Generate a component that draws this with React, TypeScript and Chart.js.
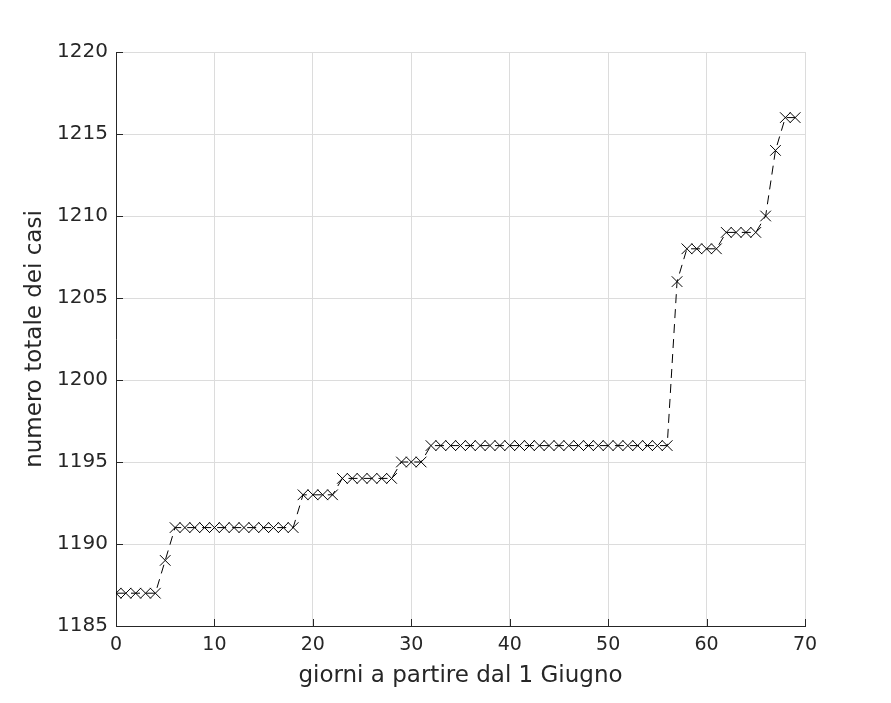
import React, { useEffect, useRef } from "react";
import { Chart, registerables } from "chart.js";

Chart.register(...registerables);

const days: number[] = [
  0, 1, 2, 3, 4, 5, 6, 7, 8, 9, 10, 11, 12, 13, 14, 15, 16, 17, 18, 19,
  20, 21, 22, 23, 24, 25, 26, 27, 28, 29, 30, 31, 32, 33, 34, 35, 36, 37, 38, 39,
  40, 41, 42, 43, 44, 45, 46, 47, 48, 49, 50, 51, 52, 53, 54, 55, 56, 57, 58, 59,
  60, 61, 62, 63, 64, 65, 66, 67, 68, 69,
];
const cases: number[] = [
  1187, 1187, 1187, 1187, 1187, 1189, 1191, 1191, 1191, 1191,
  1191, 1191, 1191, 1191, 1191, 1191, 1191, 1191, 1191, 1193,
  1193, 1193, 1193, 1194, 1194, 1194, 1194, 1194, 1194, 1195,
  1195, 1195, 1196, 1196, 1196, 1196, 1196, 1196, 1196, 1196,
  1196, 1196, 1196, 1196, 1196, 1196, 1196, 1196, 1196, 1196,
  1196, 1196, 1196, 1196, 1196, 1196, 1196, 1206, 1208, 1208,
  1208, 1208, 1209, 1209, 1209, 1209, 1210, 1214, 1216, 1216,
];
const xTicks: number[] = [0, 10, 20, 30, 40, 50, 60, 70];
const yTicks: number[] = [1185, 1190, 1195, 1200, 1205, 1210, 1215, 1220];
const xLabel = "giorni a partire dal 1 Giugno";
const yLabel = "numero totale dei casi";

const AXIS = "#262626";
const FONT = "'DejaVu Sans'";

const innerTicks = {
  id: "innerTicks",
  afterDraw(chart: any) {
    const { ctx, chartArea } = chart;
    const xs = chart.scales.x;
    const ys = chart.scales.y;
    ctx.save();
    ctx.strokeStyle = AXIS;
    ctx.lineWidth = 1;
    ctx.beginPath();
    xTicks.forEach((v) => {
      const px = Math.round(xs.getPixelForValue(v)) + 0.5;
      ctx.moveTo(px, chartArea.bottom);
      ctx.lineTo(px, chartArea.bottom - 7);
    });
    yTicks.forEach((v) => {
      const py = Math.round(ys.getPixelForValue(v)) + 0.5;
      ctx.moveTo(chartArea.left, py);
      ctx.lineTo(chartArea.left + 7, py);
    });
    ctx.stroke();
    ctx.restore();
  },
};

export default function App() {
  const ref = useRef<HTMLCanvasElement | null>(null);
  useEffect(() => {
    if (!ref.current) return;
    const chart = new Chart(ref.current, {
      type: "line",
      data: {
        datasets: [
          {
            data: days.map((d, i) => ({ x: d, y: cases[i] })),
            borderColor: "#000000",
            backgroundColor: "#000000",
            borderWidth: 1,
            borderDash: [9, 6],
            pointStyle: "crossRot",
            pointRadius: 7.5,
            pointBorderWidth: 1,
            pointBorderColor: "#000000",
            fill: false,
            tension: 0,
          },
        ],
      },
      options: {
        responsive: false,
        animation: false,
        plugins: { legend: { display: false }, tooltip: { enabled: false } },
        layout: { padding: { top: 52, right: 86, left: 0, bottom: 0 } },
        scales: {
          x: {
            type: "linear",
            min: 0,
            max: 70,
            afterFit: (s: any) => {
              s.height = 77;
            },
            afterBuildTicks: (s: any) => {
              s.ticks = xTicks.map((v) => ({ value: v }));
            },
            ticks: {
              color: AXIS,
              font: { family: FONT, size: 19 },
              padding: 8,
              maxRotation: 0,
              callback: (v: any) => String(v),
            },
            grid: { color: "#dcdcdc", drawTicks: false, lineWidth: 1 },
            border: { display: true, color: AXIS, width: 1 },
            title: {
              display: true,
              text: xLabel,
              color: AXIS,
              font: { family: FONT, size: 23 },
              padding: { top: 0, bottom: 13 },
            },
          },
          y: {
            type: "linear",
            min: 1185,
            max: 1220,
            afterFit: (s: any) => {
              s.width = 116;
            },
            afterBuildTicks: (s: any) => {
              s.ticks = yTicks.map((v) => ({ value: v }));
            },
            ticks: {
              color: AXIS,
              font: { family: FONT, size: 20 },
              padding: 8,
              callback: (v: any) => String(v),
            },
            grid: { color: "#dcdcdc", drawTicks: false, lineWidth: 1 },
            border: { display: true, color: AXIS, width: 1 },
            title: {
              display: true,
              text: yLabel,
              color: AXIS,
              font: { family: FONT, size: 23 },
              padding: { top: 21, bottom: 0 },
            },
          },
        },
      },
      plugins: [innerTicks],
    });
    return () => chart.destroy();
  }, []);
  return (
    <div style={{ position: "absolute", left: 0, top: 0, width: 891, height: 703, background: "#ffffff" }}>
      <canvas ref={ref} width={891} height={703} />
    </div>
  );
}
